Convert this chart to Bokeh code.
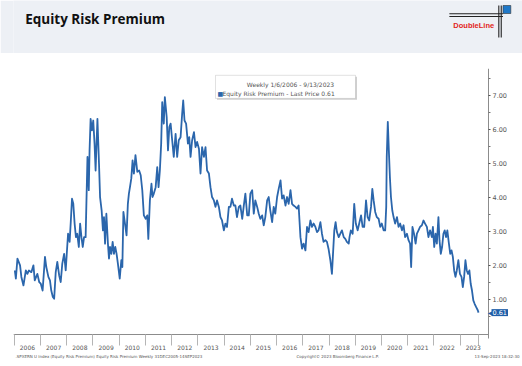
from bokeh.plotting import figure
from bokeh.models import (Range1d, LinearAxis, FixedTicker, CustomJSTickFormatter,
                          NumeralTickFormatter, Label, BoxAnnotation, ColumnDataSource)
from bokeh.layouts import column
from bokeh.embed import file_html
from bokeh.resources import INLINE

# ---------------- data ----------------
title_text = "Equity Risk Premium"
legend_line1 = "Weekly 1/6/2006 - 9/13/2023"
legend_line2 = "Equity Risk Premium - Last Price 0.61"
footer_left = ".SPXERN U Index (Equity Risk Premium) Equity Risk Premium  Weekly 31DEC2005-14SEP2023"
footer_mid = "Copyright\u00a9 2023 Bloomberg Finance L.P."
footer_right = "13-Sep-2023 18:32:30"
last_price = 0.61

erp_dates = [
    2006.02, 2006.06, 2006.12, 2006.22, 2006.27, 2006.35, 2006.44, 2006.50, 2006.56, 2006.65,
    2006.73, 2006.78, 2006.88, 2006.95,
    2007.01, 2007.08, 2007.17, 2007.22, 2007.30, 2007.36, 2007.41, 2007.47, 2007.52, 2007.58,
    2007.64, 2007.71, 2007.77, 2007.83, 2007.90, 2007.96,
    2008.05, 2008.11, 2008.15, 2008.20, 2008.25, 2008.30, 2008.35, 2008.40, 2008.46, 2008.51,
    2008.56, 2008.61, 2008.66, 2008.72, 2008.79, 2008.84, 2008.87, 2008.91, 2008.96,
    2009.01, 2009.06, 2009.10, 2009.17, 2009.23, 2009.27, 2009.33, 2009.38, 2009.42, 2009.46,
    2009.51, 2009.57, 2009.61, 2009.65, 2009.70, 2009.75, 2009.80, 2009.85, 2009.90, 2009.95,
    2010.02, 2010.08, 2010.12, 2010.16, 2010.22, 2010.28, 2010.33, 2010.37, 2010.41, 2010.46,
    2010.51, 2010.56, 2010.62, 2010.69, 2010.76, 2010.82, 2010.88, 2010.94,
    2011.01, 2011.07, 2011.11, 2011.17, 2011.23, 2011.27, 2011.32, 2011.39, 2011.45, 2011.50,
    2011.55, 2011.60, 2011.64, 2011.70, 2011.74, 2011.81, 2011.86, 2011.91, 2011.96,
    2012.02, 2012.08, 2012.15, 2012.21, 2012.27, 2012.34, 2012.40, 2012.44, 2012.49, 2012.55,
    2012.62, 2012.67, 2012.72, 2012.78, 2012.85, 2012.91, 2012.97,
    2013.04, 2013.10, 2013.16, 2013.23, 2013.29, 2013.35, 2013.42, 2013.48, 2013.54, 2013.61,
    2013.67, 2013.73, 2013.80, 2013.86, 2013.92, 2013.99,
    2014.05, 2014.11, 2014.18, 2014.24, 2014.30, 2014.37, 2014.43, 2014.49, 2014.56, 2014.62,
    2014.69, 2014.75, 2014.81, 2014.88, 2014.94,
    2015.00, 2015.07, 2015.13, 2015.19, 2015.26, 2015.32, 2015.38, 2015.45, 2015.51, 2015.57,
    2015.64, 2015.70, 2015.76, 2015.83, 2015.89, 2015.95,
    2016.02, 2016.08, 2016.15, 2016.21, 2016.27, 2016.34, 2016.40, 2016.46, 2016.53, 2016.59,
    2016.65, 2016.72, 2016.78, 2016.84, 2016.91, 2016.97,
    2017.03, 2017.10, 2017.16, 2017.22, 2017.29, 2017.35, 2017.41, 2017.48, 2017.54, 2017.60,
    2017.67, 2017.73, 2017.79, 2017.86, 2017.92, 2017.98,
    2018.05, 2018.11, 2018.20, 2018.25, 2018.30, 2018.37, 2018.43, 2018.49, 2018.56, 2018.62,
    2018.68, 2018.75, 2018.78, 2018.83, 2018.90, 2018.96,
    2019.02, 2019.09, 2019.15, 2019.22, 2019.28, 2019.34, 2019.41, 2019.47, 2019.53, 2019.60,
    2019.65, 2019.70, 2019.76, 2019.82, 2019.89, 2019.95,
    2020.01, 2020.08, 2020.14, 2020.18, 2020.20, 2020.24, 2020.28, 2020.32, 2020.36, 2020.41,
    2020.46, 2020.52, 2020.59, 2020.65, 2020.71, 2020.78, 2020.84, 2020.90, 2020.97,
    2021.03, 2021.09, 2021.13, 2021.18, 2021.24, 2021.30, 2021.35, 2021.41, 2021.47, 2021.54,
    2021.60, 2021.66, 2021.73, 2021.79, 2021.85, 2021.92, 2021.96,
    2022.01, 2022.06, 2022.11, 2022.17, 2022.21, 2022.26, 2022.31, 2022.36, 2022.41, 2022.46,
    2022.51, 2022.57, 2022.62, 2022.67, 2022.72, 2022.77, 2022.82, 2022.87, 2022.93, 2022.99,
    2023.05, 2023.10, 2023.15, 2023.20, 2023.25, 2023.30, 2023.35, 2023.40, 2023.45, 2023.50,
    2023.55, 2023.61, 2023.67, 2023.70,
]

erp_values = [
    1.85, 1.61, 2.20, 2.00, 1.66, 1.41, 1.85, 1.75, 1.85, 1.80,
    2.00, 1.56, 1.75, 1.51,
    1.46, 1.26, 2.25, 1.95, 1.66, 1.56, 1.26, 1.07, 1.02, 1.80,
    2.10, 1.71, 1.51, 2.05, 2.34, 1.85,
    2.93, 2.69, 3.23, 3.96, 3.81, 3.23, 2.83, 2.93, 2.54, 3.23,
    2.83, 2.54, 2.83, 2.83, 5.19, 4.21, 5.38, 6.31, 5.97,
    6.26, 5.58, 4.79, 6.31, 4.99, 4.01, 3.62, 3.03, 3.42, 2.64,
    3.52, 2.64, 2.20, 2.54, 2.34, 2.69, 2.34, 2.54, 2.34, 2.05,
    1.61, 2.15, 1.95, 3.57, 3.23, 2.88, 3.81, 4.11, 4.30, 4.55,
    5.09, 4.70, 5.24, 4.75, 4.79, 4.65, 4.21, 3.47,
    3.37, 3.47, 2.78, 3.91, 4.40, 4.01, 4.11, 4.30, 4.89, 4.30,
    4.79, 5.58, 6.80, 6.17, 6.95, 6.36, 5.38, 6.07, 6.17,
    5.68, 5.19, 5.87, 5.19, 5.68, 5.77, 6.46, 6.85, 6.26, 6.17,
    5.58, 5.77, 5.19, 5.68, 5.92, 5.48, 5.63,
    5.43, 4.70, 5.48, 5.19, 5.48, 4.79, 4.70, 4.30, 4.01, 3.91,
    3.72, 3.91, 3.72, 3.42, 3.32, 3.03,
    3.23, 3.13, 3.72, 3.72, 3.96, 3.76, 3.76, 3.42, 3.72, 3.76,
    3.37, 3.76, 4.11, 3.47, 3.47,
    4.11, 4.21, 3.52, 3.91, 3.72, 3.52, 3.37, 3.47, 3.18, 3.42,
    3.91, 4.01, 3.62, 3.27, 3.72, 3.52,
    4.01, 4.25, 4.50, 3.96, 4.06, 3.76, 4.01, 3.81, 4.21, 3.81,
    3.76, 3.72, 3.67, 3.76, 2.83, 2.49,
    2.64, 2.44, 3.13, 2.98, 3.32, 3.13, 3.23, 3.13, 2.98, 3.03,
    3.27, 2.93, 2.69, 2.74, 2.69, 2.49,
    2.15, 1.75, 3.03, 3.27, 2.98, 2.83, 2.93, 3.03, 2.83, 2.78,
    2.69, 2.64, 2.83, 3.03, 2.93, 3.81,
    3.23, 3.03, 3.23, 3.47, 3.13, 3.13, 3.91, 3.42, 3.32, 3.72,
    4.25, 3.91, 3.57, 3.42, 3.37, 3.13,
    3.23, 3.03, 3.03, 3.72, 5.19, 6.22, 5.38, 4.60, 4.01, 3.62,
    3.42, 3.23, 3.42, 3.13, 3.23, 3.03, 3.18, 2.83, 2.93,
    2.74, 2.64, 1.95, 3.13, 2.93, 2.64, 2.93, 3.03, 3.13, 3.18,
    3.32, 3.23, 3.13, 2.83, 3.03, 2.83, 3.13,
    2.54, 2.93, 2.64, 3.42, 2.74, 2.34, 2.54, 2.93, 3.03, 2.83,
    3.03, 2.64, 2.34, 2.44, 2.25, 1.85, 1.66, 1.85, 2.15, 1.75,
    1.66, 1.36, 1.66, 2.15, 1.85, 1.75, 1.85, 1.46, 1.26, 0.97,
    0.87, 0.77, 0.68, 0.61,
]

year_labels = ["2006", "2007", "2008", "2009", "2010", "2011", "2012", "2013", "2014",
               "2015", "2016", "2017", "2018", "2019", "2020", "2021", "2022", "2023"]
y_ticks = [1, 2, 3, 4, 5, 6, 7]
y_minor_ticks = [0.5, 1.5, 2.5, 3.5, 4.5, 5.5, 6.5, 7.5]

# ---------------- styling / layout ----------------
W = 522
HEAD_H = 53
CHART_H = 313
LINE_COLOR = "#2b66ac"
GREY_TXT = "#555555"
AXIS_COL = "#8c8c8c"
FONT = "DejaVu Sans"

FRAME_LEFT = 13          # px
FRAME_TOP = 15           # px
AXIS_PX = 488            # px position of the value axis
PX_PER_YEAR = 26.23
PX_PER_UNIT = 34.0
x_start = 2005.97
x_end = x_start + (W - FRAME_LEFT) / PX_PER_YEAR
x_axis_pos = x_start + (AXIS_PX - FRAME_LEFT) / PX_PER_YEAR
y_top = 7.79
y_bottom = y_top - (CHART_H - FRAME_TOP) / PX_PER_UNIT
y_axis_floor = -0.03     # where the date axis sits


def xpx(px):
    """screen x (px) -> data x (years) in the chart figure"""
    return x_start + (px - FRAME_LEFT) / PX_PER_YEAR


def ypx(py):
    """screen y (px, from top of chart figure) -> data value"""
    return y_top - (py - FRAME_TOP) / PX_PER_UNIT


# ---------------- header ----------------
head = figure(width=W, height=HEAD_H, x_range=Range1d(0, W), y_range=Range1d(HEAD_H, 0),
              output_backend="svg", toolbar_location=None, x_axis_type=None, y_axis_type=None,
              min_border=0, background_fill_color="#edf0f5", border_fill_color="#edf0f5",
              outline_line_color=None)
head.add_layout(Label(x=12, y=18, text=title_text, text_font="Open Sans", text_font_style="bold",
                      text_font_size="13.5px", text_color="#111111", text_baseline="alphabetic"))
# DoubleLine logo
head.segment(x0=[447, 447], y0=[13.3, 16.0], x1=[502, 502], y1=[13.3, 16.0],
             line_color="#222222", line_width=1.1)
head.segment(x0=[497.7, 500.2], y0=[5, 5], x1=[497.7, 500.2], y1=[37, 37],
             line_color="#222222", line_width=1.1)
head.quad(left=[502], right=[510], top=[5], bottom=[13], fill_color="#1f78c8",
          line_color="#333333", line_width=0.6)
head.add_layout(Label(x=472, y=25, text="DoubleLine", text_font="Liberation Sans", text_font_style="bold",
                      text_font_size="7.5px", text_color="#e2231a", text_align="center",
                      text_baseline="middle"))

# ---------------- chart ----------------
p = figure(width=W, height=CHART_H, x_range=Range1d(x_start, x_end), y_range=Range1d(y_bottom, y_top),
           output_backend="svg", toolbar_location=None, x_axis_type=None, y_axis_type=None,
           min_border_left=FRAME_LEFT, min_border_right=0, min_border_top=FRAME_TOP, min_border_bottom=0,
           outline_line_color=None, background_fill_color="white", border_fill_color="white")

src = ColumnDataSource(data=dict(x=erp_dates, y=erp_values))
p.line("x", "y", source=src, line_color=LINE_COLOR, line_width=1.8, line_join="round")

first_year = int(year_labels[0])
year_mid = [int(y) + 0.5 for y in year_labels]
year_bounds = [int(y) for y in year_labels] + [erp_dates[-1]]

xax = LinearAxis(ticker=FixedTicker(ticks=year_mid, minor_ticks=year_bounds),
                 formatter=CustomJSTickFormatter(args=dict(labels=year_labels, first=first_year),
                                                 code="return labels[Math.floor(tick) - first] || '';"),
                 fixed_location=y_axis_floor,
                 bounds=(x_start, x_axis_pos),
                 axis_line_color=AXIS_COL, axis_line_width=1,
                 major_tick_out=0, major_tick_in=0,
                 minor_tick_out=11, minor_tick_in=0, minor_tick_line_color="#b5b5b5",
                 major_label_standoff=0, major_label_text_font=FONT,
                 major_label_text_font_size="6px", major_label_text_color=GREY_TXT)
p.add_layout(xax, "below")

yax = LinearAxis(ticker=FixedTicker(ticks=y_ticks, minor_ticks=y_minor_ticks),
                 formatter=NumeralTickFormatter(format="0.00"),
                 fixed_location=x_axis_pos,
                 bounds=(ypx(285), y_top),
                 axis_line_color=AXIS_COL, axis_line_width=1,
                 major_tick_out=2, major_tick_in=0, minor_tick_out=2, minor_tick_in=0,
                 major_tick_line_color="#555555", minor_tick_line_color="#777777",
                 major_label_standoff=2, major_label_text_font=FONT,
                 major_label_text_font_size="6.5px", major_label_text_color=GREY_TXT)
p.add_layout(yax, "right")

# legend box
p.add_layout(BoxAnnotation(left=xpx(216.5), right=xpx(356.5), top=7.55, bottom=6.87,
                           fill_color="#cfcfcf", fill_alpha=1, line_color=None))
p.add_layout(BoxAnnotation(left=xpx(215), right=xpx(355), top=7.59, bottom=6.91,
                           fill_color="white", fill_alpha=1, line_color="#9a9a9a", line_width=1))
p.add_layout(Label(x=xpx(290), y=7.32, text=legend_line1, text_font=FONT, text_font_size="6px",
                   text_color=GREY_TXT, text_align="center", text_baseline="middle"))
p.add_layout(Label(x=xpx(217), y=7.06, text="\u25a0", text_font=FONT, text_font_size="6px",
                   text_color=LINE_COLOR, text_align="left", text_baseline="middle"))
p.add_layout(Label(x=xpx(222), y=7.06, text=legend_line2, text_font=FONT, text_font_size="6px",
                   text_color=GREY_TXT, text_align="left", text_baseline="middle"))

# last price marker
p.add_layout(Label(x=xpx(489.5), y=last_price, text="\u25c0", text_font=FONT,
                   text_font_size="6px", text_color="#1f5ea8", text_align="center", text_baseline="middle"))
p.add_layout(Label(x=xpx(491), y=last_price, text="%.2f" % last_price, text_font=FONT,
                   text_font_size="6.5px", text_color="white", background_fill_color="#1f5ea8",
                   text_align="left", text_baseline="middle", padding=1))

# footer (inside the chart frame, below the date axis)
fy = ypx(302.5)
p.add_layout(Label(x=xpx(15), y=fy, text=footer_left, text_font=FONT, text_font_size="4px",
                   text_color=GREY_TXT, text_align="left", text_baseline="middle"))
p.add_layout(Label(x=xpx(296), y=fy, text=footer_mid, text_font=FONT, text_font_size="4px",
                   text_color=GREY_TXT, text_align="left", text_baseline="middle"))
p.add_layout(Label(x=xpx(519), y=fy, text=footer_right, text_font=FONT, text_font_size="4px",
                   text_color=GREY_TXT, text_align="right", text_baseline="middle"))

layout = column(head, p, spacing=0)
open("out.html", "w").write(file_html(layout, INLINE))
